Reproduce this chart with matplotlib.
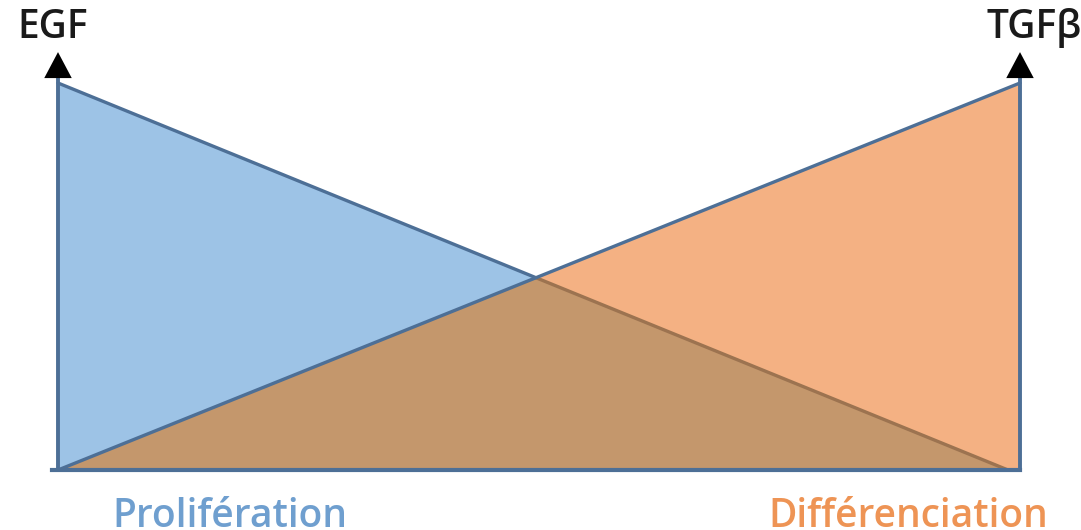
import numpy as np
import matplotlib.pyplot as plt

# triangles (x from left axis = 0 to right axis = 1, height 0..1)
egf_x = [0.0, 0.0, 0.9875]
egf_y = [1.0, 0.0, 0.0]
tgf_x = [0.0, 1.0, 1.0]
tgf_y = [0.0, 1.0, 0.0]
labels_top = ['EGF', 'TGFβ']
labels_bottom = ['Prolifération', 'Différenciation']

blue_fill = '#9dc3e6'
orange_fill = '#f4b183'
mix_fill = '#c4976c'
edge = '#4d6f96'
mix_edge = '#9c7350'

plt.rcParams['font.family'] = ['Open Sans', 'DejaVu Sans']

fig = plt.figure(figsize=(10.81, 5.30), dpi=100)
W, H = 1081, 530
ax = fig.add_axes([58 / W, 60 / H, 962 / W, 387 / H])
ax.set_xlim(0, 1)
ax.set_ylim(0, 1)
ax.axis('off')

# intersection of the two hypotenuses
s1 = (egf_y[2] - egf_y[0]) / (egf_x[2] - egf_x[0])
s2 = (tgf_y[1] - tgf_y[0]) / (tgf_x[1] - tgf_x[0])
xi = (tgf_y[0] - egf_y[0] + s1 * egf_x[0] - s2 * tgf_x[0]) / (s1 - s2)
yi = egf_y[0] + s1 * (xi - egf_x[0])

ax.fill(egf_x, egf_y, color=blue_fill, lw=0, clip_on=False)
ax.fill(tgf_x, tgf_y, color=orange_fill, lw=0, clip_on=False)
ax.fill([tgf_x[0], xi, egf_x[2]], [tgf_y[0], yi, egf_y[2]], color=mix_fill, lw=0, clip_on=False)

lw = 2.4
# blue hypotenuse: blue above crossing, brownish below
ax.plot([egf_x[0], xi], [egf_y[0], yi], color=edge, lw=lw, clip_on=False, solid_capstyle='round')
ax.plot([xi, egf_x[2]], [yi, egf_y[2]], color=mix_edge, lw=lw, clip_on=False, solid_capstyle='round')
# orange hypotenuse
ax.plot([tgf_x[0], tgf_x[1]], [tgf_y[0], tgf_y[1]], color=edge, lw=lw, clip_on=False, solid_capstyle='round')
# base line
ax.plot([-0.006, 1.0], [0, 0], color=edge, lw=lw + 0.6, clip_on=False)

# vertical axes with arrows
for xa in [0.0, 1.0]:
    ax.plot([xa, xa], [0, 1.04], color=edge, lw=lw + 0.4, clip_on=False)
    ax.annotate('', xy=(xa, 1.087), xytext=(xa, 1.035),
                arrowprops=dict(arrowstyle='-|>,head_length=0.85,head_width=0.45',
                                color='black', lw=0, mutation_scale=22),
                annotation_clip=False)

fig.text(53 / W, 1 - 38 / H, labels_top[0], ha='center', va='baseline',
         fontsize=28, fontweight='semibold', color='#1a1a1a')
fig.text(1034 / W, 1 - 38 / H, labels_top[1], ha='center', va='baseline',
         fontsize=28, fontweight='semibold', color='#1a1a1a')
fig.text(112 / W, 1 - 527 / H, labels_bottom[0], ha='left', va='baseline',
         fontsize=28, fontweight='semibold', color='#6f9fcf')
fig.text(768 / W, 1 - 527 / H, labels_bottom[1], ha='left', va='baseline',
         fontsize=28, fontweight='semibold', color='#ee9455')

fig.savefig('out.png', dpi=100)
